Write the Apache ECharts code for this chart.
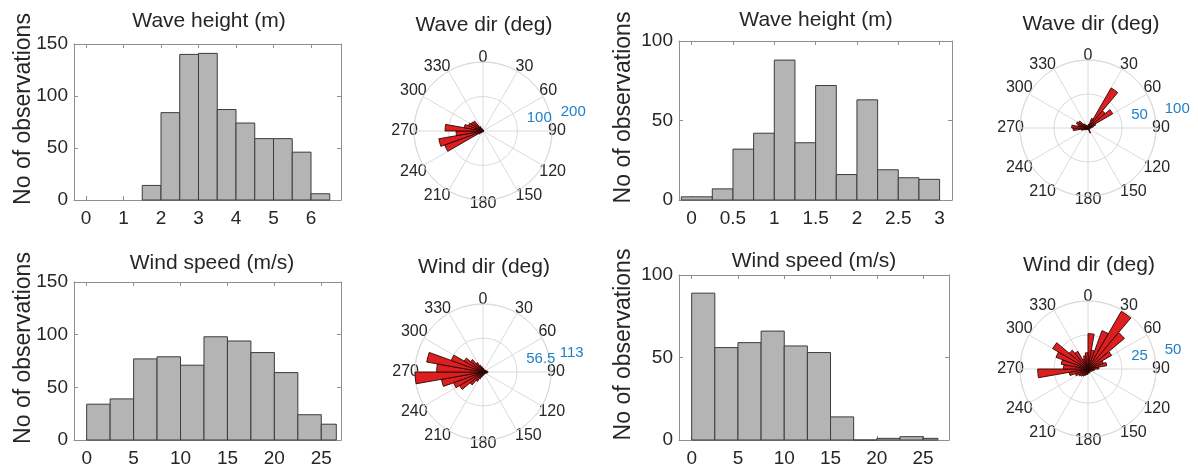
<!DOCTYPE html>
<html>
<head>
<meta charset="utf-8">
<script src="https://cdn.jsdelivr.net/npm/echarts@6/dist/echarts.min.js"></script>
<style>
  html, body { margin: 0; padding: 0; background: #fff; }
  #main { width: 1198px; height: 468px; }
</style>
</head>
<body>
<div id="main"></div>
<script>
// histogram bin edges + counts (left pair of panels = A, right pair = B)
var waveHeightEdgesA = [1.5, 2, 2.5, 3, 3.5, 4, 4.5, 5, 5.5, 6, 6.5];
var waveHeightCountsA = [14, 84, 140, 141, 87, 74, 59, 59, 46, 6];
var waveHeightEdgesB = [-0.125, 0.25, 0.5, 0.75, 1, 1.25, 1.5, 1.75, 2, 2.25, 2.5, 2.75, 3];
var waveHeightCountsB = [2, 7, 32, 42, 88, 36, 72, 16, 63, 19, 14, 13];
var windSpeedEdgesA = [0, 2.5, 5, 7.5, 10, 12.5, 15, 17.5, 20, 22.5, 25, 26.6];
var windSpeedCountsA = [34, 39, 77, 79, 71, 98, 94, 83, 64, 24, 15];
var windSpeedEdgesB = [0, 2.5, 5, 7.5, 10, 12.5, 15, 17.5, 20, 22.5, 25, 26.6];
var windSpeedCountsB = [89, 56, 59, 66, 57, 53, 14, 0, 1, 2, 1];

// direction bins: start of each 10 deg sector, clockwise from north
var dirBinStarts = [0, 10, 20, 30, 40, 50, 60, 70, 80, 90, 100, 110, 120, 130, 140, 150, 160, 170,
  180, 190, 200, 210, 220, 230, 240, 250, 260, 270, 280, 290, 300, 310, 320, 330, 340, 350];
var dirBinWidth = 10;
var waveDirA = [3, 2, 2, 2, 2, 2, 2, 2, 2, 2, 2, 2, 2, 2, 2, 2, 2, 2,
  2, 2, 3, 4, 6, 14, 118, 130, 78, 110, 55, 45, 40, 38, 15, 8, 5, 3];
var waveDirB = [4, 6, 15, 68, 33, 42, 12, 8, 5, 3, 3, 2, 2, 2, 3, 8, 3, 2,
  2, 2, 2, 2, 3, 4, 6, 10, 22, 24, 15, 18, 16, 8, 5, 4, 3, 3];
var windDirA = [6, 5, 4, 4, 4, 5, 5, 6, 8, 8, 6, 5, 4, 4, 4, 4, 5, 5,
  6, 8, 12, 18, 28, 45, 52, 70, 113, 77, 95, 56, 36, 27, 18, 12, 9, 7];
var windDirB = [26, 14, 30, 49, 35, 20, 12, 14, 8, 5, 4, 3, 3, 2, 2, 3, 3, 3,
  4, 4, 5, 6, 7, 8, 10, 14, 37, 18, 20, 25, 30, 18, 15, 8, 10, 12];

var histPanels = [
  {title: 'Wave height (m)', edges: waveHeightEdgesA, counts: waveHeightCountsA, left: 74, top: 44, width: 267, height: 156,
    xMin: -0.32, xMax: 6.8, step: 1, yMax: 150, nameGap: 39, titleX: 209, titleY: 11},
  {title: 'Wave height (m)', edges: waveHeightEdgesB, counts: waveHeightCountsB, left: 679, top: 41, width: 273, height: 159,
    xMin: -0.153, xMax: 3.15, step: 0.5, yMax: 100, nameGap: 44, titleX: 816, titleY: 10},
  {title: 'Wind speed (m/s)', edges: windSpeedEdgesA, counts: windSpeedCountsA, left: 74, top: 282, width: 267, height: 158,
    xMin: -1.35, xMax: 27.1, step: 5, yMax: 150, nameGap: 39, titleX: 212, titleY: 253},
  {title: 'Wind speed (m/s)', edges: windSpeedEdgesB, counts: windSpeedCountsB, left: 679, top: 275, width: 270, height: 165,
    xMin: -1.37, xMax: 27.8, step: 5, yMax: 100, nameGap: 44, titleX: 814, titleY: 251}
];

var rosePanels = [
  {title: 'Wave dir (deg)', counts: waveDirA, cx: 483, cy: 131, r: 69, rMax: 200, titleX: 484, titleY: 15},
  {title: 'Wave dir (deg)', counts: waveDirB, cx: 1088, cy: 128, r: 68, rMax: 100, titleX: 1091, titleY: 14},
  {title: 'Wind dir (deg)', counts: windDirA, cx: 483, cy: 372, r: 68, rMax: 113, titleX: 484, titleY: 257},
  {title: 'Wind dir (deg)', counts: windDirB, cx: 1088, cy: 369, r: 68, rMax: 50, titleX: 1089, titleY: 255}
];

var textColor = '#262626';
var boxColor = '#8f8f8f';
var gridLineColor = '#dadada';

var chart = echarts.init(document.getElementById('main'));

var option = {
  animation: false,
  textStyle: {fontFamily: 'Liberation Sans, Arial, sans-serif'},
  title: [],
  grid: [],
  xAxis: [],
  yAxis: [],
  polar: [],
  angleAxis: [],
  radiusAxis: [],
  series: []
};

function histItem(params, api) {
  var p0 = api.coord([api.value(0), api.value(2)]);
  var p1 = api.coord([api.value(1), 0]);
  return {
    type: 'rect',
    shape: {x: p0[0], y: p0[1], width: p1[0] - p0[0], height: p1[1] - p0[1]},
    style: {fill: '#b4b4b4', stroke: '#3c3c3c', lineWidth: 1}
  };
}

function roseItem(params, api) {
  var cs = params.coordSys;
  var a0 = api.value(0);
  var n = api.value(1);
  var p0 = api.coord([n, a0]);
  var p1 = api.coord([n, a0 + dirBinWidth]);
  var r = Math.sqrt((p0[0] - cs.cx) * (p0[0] - cs.cx) + (p0[1] - cs.cy) * (p0[1] - cs.cy));
  var s = Math.atan2(p0[1] - cs.cy, p0[0] - cs.cx);
  var e = Math.atan2(p1[1] - cs.cy, p1[0] - cs.cx);
  if (e < s) e += Math.PI * 2;
  return {
    type: 'sector',
    shape: {cx: cs.cx, cy: cs.cy, r0: 0, r: r, startAngle: s, endAngle: e, clockwise: true},
    style: {fill: '#de1f1f', stroke: '#2b0606', lineWidth: 0.9}
  };
}

function boxAxis(extra) {
  var a = {
    type: 'value',
    axisLine: {show: true, onZero: false, lineStyle: {color: boxColor}},
    axisTick: {show: true, inside: true, length: 4, lineStyle: {color: boxColor}},
    splitLine: {show: false}
  };
  for (var k in extra) a[k] = extra[k];
  return a;
}

histPanels.forEach(function (p, i) {
  option.title.push({
    text: p.title, left: p.titleX, top: p.titleY, textAlign: 'center', padding: 0,
    textStyle: {fontSize: 21, fontWeight: 'normal', color: textColor}
  });
  option.grid.push({left: p.left, top: p.top, width: p.width, height: p.height});
  var step = p.step;
  // bottom x axis with labels
  option.xAxis.push(boxAxis({
    gridIndex: i, min: p.xMin, max: p.xMax, position: 'bottom',
    axisLabel: {
      color: textColor, fontSize: 19, margin: 9,
      formatter: function (v) {
        var k = v / step;
        return Math.abs(k - Math.round(k)) < 1e-6 ? String(+v.toFixed(2)) : '';
      }
    }
  }));
  // top x axis, only the box edge
  option.xAxis.push(boxAxis({
    gridIndex: i, min: p.xMin, max: p.xMax, position: 'top',
    axisLabel: {show: false}
  }));
  option.yAxis.push(boxAxis({
    gridIndex: i, min: 0, max: p.yMax, interval: 50, position: 'left',
    name: 'No of observations', nameLocation: 'middle', nameGap: p.nameGap, nameRotate: 90,
    nameMoveOverlap: false,
    nameTextStyle: {fontSize: 23, color: textColor, padding: [0, 0, 0, 26]},
    axisLabel: {color: textColor, fontSize: 19, margin: 6}
  }));
  option.yAxis.push(boxAxis({
    gridIndex: i, min: 0, max: p.yMax, interval: 50, position: 'right',
    axisLabel: {show: false}
  }));
  var data = p.counts.map(function (c, j) { return [p.edges[j], p.edges[j + 1], c]; });
  option.series.push({
    type: 'custom', xAxisIndex: i * 2, yAxisIndex: i * 2,
    renderItem: histItem,
    encode: {x: [0, 1], y: 2},
    data: data
  });
});

rosePanels.forEach(function (p, i) {
  option.title.push({
    text: p.title, left: p.titleX, top: p.titleY, textAlign: 'center', padding: 0,
    textStyle: {fontSize: 21, fontWeight: 'normal', color: textColor}
  });
  // main polar: 0 at north, clockwise
  option.polar.push({center: [p.cx, p.cy], radius: p.r});
  option.angleAxis.push({
    polarIndex: i * 2, type: 'value', min: 0, max: 360, interval: 30, startAngle: 90, clockwise: true,
    axisLine: {show: true, lineStyle: {color: gridLineColor}},
    axisTick: {show: false},
    axisLabel: {color: textColor, fontSize: 16, margin: -4},
    splitLine: {show: true, lineStyle: {color: gridLineColor}}
  });
  option.radiusAxis.push({
    polarIndex: i * 2, type: 'value', min: 0, max: p.rMax, interval: p.rMax / 2,
    axisLine: {show: false}, axisTick: {show: false}, axisLabel: {show: false},
    splitLine: {show: true, lineStyle: {color: gridLineColor}}
  });
  // second polar only carries the radial tick labels at 80 deg
  option.polar.push({center: [p.cx, p.cy], radius: p.r});
  option.angleAxis.push({
    polarIndex: i * 2 + 1, type: 'value', min: 0, max: 360, startAngle: 10, show: false
  });
  option.radiusAxis.push({
    polarIndex: i * 2 + 1, type: 'value', min: 0, max: p.rMax, interval: p.rMax / 2,
    axisLine: {show: false}, axisTick: {show: false}, splitLine: {show: false},
    axisLabel: {
      color: '#1f80c8', fontSize: 15, margin: 7, align: 'left', verticalAlign: 'middle',
      padding: [0, 0, 0, 11],
      formatter: function (v) { return v === 0 ? '' : String(v); }
    }
  });
  var data = p.counts.map(function (c, j) { return [dirBinStarts[j], c]; });
  option.series.push({
    type: 'custom', coordinateSystem: 'polar', polarIndex: i * 2,
    renderItem: roseItem,
    encode: {angle: 0, radius: 1},
    data: data
  });
});

chart.setOption(option);
</script>
</body>
</html>
